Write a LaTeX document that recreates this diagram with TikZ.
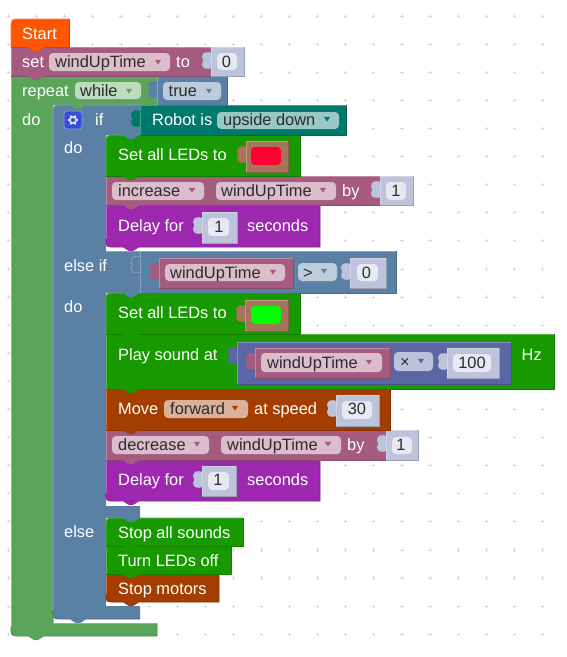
\documentclass[tikz,border=0pt]{standalone}
\usepackage{fontspec}
\usetikzlibrary{calc}
\setmainfont{Liberation Sans}
\definecolor{cLoop}{HTML}{5BA55B}
\definecolor{cLogic}{HTML}{5B80A5}
\definecolor{cVar}{HTML}{A55B80}
\definecolor{cVal}{HTML}{BCC3DB}
\definecolor{cValF}{HTML}{E6E9F2}
\definecolor{cTeal}{HTML}{00796B}
\definecolor{cLed}{HTML}{189900}
\definecolor{cPur}{HTML}{9E27B0}
\definecolor{cMot}{HTML}{A33E00}
\definecolor{cStart}{HTML}{FF5500}
\definecolor{cMath}{HTML}{5B67A5}
\definecolor{cCol}{HTML}{A5745B}
\definecolor{cGear}{HTML}{3A4BD8}
\definecolor{cTxt}{HTML}{2B2B2B}
\definecolor{cRed}{HTML}{FF0033}
% block: x1 y1 x2 y2 colour top-left-radius bottom-left-radius
\newcommand{\blk}[7]{%
  \fill[#5] (#1,#2+#6) .. controls (#1,#2) .. (#1+#6,#2) -- (#3,#2) -- (#3,#4) -- (#1+#7,#4) .. controls (#1,#4) .. (#1,#4-#7) -- cycle;
  \draw[#5!72!white,edge] (#1,#4-#7) -- (#1,#2+#6) .. controls (#1,#2) .. (#1+#6,#2) -- (#3,#2);
  \draw[#5!82!black,edge] (#3,#2) -- (#3,#4) -- (#1+#7,#4) .. controls (#1,#4) .. (#1,#4-#7);
}
% notch tab hanging under a block: x y colour
\newcommand{\nch}[3]{%
  \fill[#3] (#1+15,#2-.6) .. controls (#1+18,#2+1) and (#1+20,#2+4.2) .. (#1+24,#2+4.2) .. controls (#1+28,#2+4.2) and (#1+30,#2+1) .. (#1+33,#2-.6) -- cycle;
}
% value puzzle tab
\newcommand{\vpath}[2]{(#1+.6,#2+6) .. controls (#1-3,#2+4.5) and (#1-9,#2+4.5) .. (#1-9,#2+10) .. controls (#1-9,#2+12) and (#1-7.8,#2+12.5) .. (#1-7.8,#2+13.5) .. controls (#1-7.8,#2+14.5) and (#1-9,#2+15) .. (#1-9,#2+17) .. controls (#1-9,#2+22.5) and (#1-3,#2+22.5) .. (#1+.6,#2+21)}
\newcommand{\vtb}[3]{\fill[#3] \vpath{#1}{#2} -- cycle;}
\newcommand{\val}[5]{\vtb{#1}{#2}{#5}\blk{#1}{#2}{#3}{#4}{#5}{0}{0}}
\newcommand{\fld}[5]{\fill[#5,rounded corners=4pt] (#1,#2) rectangle (#3,#4);}
\newcommand{\ddn}[3]{\fill[#3] (#1-3.2,#2-2.2) -- (#1+3.2,#2-2.2) -- (#1,#2+2.6) -- cycle;}
\tikzset{
  edge/.style={line width=.7pt},
  lbl/.style={anchor=base west,inner sep=0pt,text=white,font=\fontsize{16.4}{20}\selectfont},
  ftx/.style={lbl,text=cTxt},
  num/.style={anchor=base,inner sep=0pt,text=cTxt,font=\fontsize{16.4}{20}\selectfont},
  dotm/.style={draw=black!15,line width=.7pt}
}
\begin{document}
\begin{tikzpicture}[x=1pt,y=-1pt]
\useasboundingbox (0,0) rectangle (567,657);
\fill[white] (0,0) rectangle (567,657);
% grid
\foreach \i in {0,...,19}{\foreach \j in {0,...,22}{
  \draw[dotm] ({8.5+28.1*\i-1.6},{16+28.1*\j}) -- ({8.5+28.1*\i+1.6},{16+28.1*\j});
  \draw[dotm] ({8.5+28.1*\i},{16+28.1*\j-1.6}) -- ({8.5+28.1*\i},{16+28.1*\j+1.6});
}}
% repeat
\fill[cLoop] (11,76) -- (157,76) -- (157,105) -- (53,105) -- (53,623) -- (157,623) -- (157,636) -- (20,636) .. controls (11,636) .. (11,627) -- cycle;
\draw[cLoop!72!white,edge] (11,627) -- (11,76) -- (157,76);
\draw[cLoop!72!white,edge] (53,110) -- (53,623) -- (157,623);
\draw[cLoop!82!black,edge] (157,623) -- (157,636) -- (20,636) .. controls (11,636) .. (11,627);
\nch{12}{636}{cLoop}
% if
\fill[cLogic] (53,114) .. controls (53,105) .. (62,105) -- (140,105) -- (140,135) -- (106,135) -- (106,251) -- (140,251) -- (140,293) -- (106,293) -- (106,506) -- (140,506) -- (140,518) -- (106,518) -- (106,606) -- (140,606) -- (140,619) -- (62,619) .. controls (53,619) .. (53,610) -- cycle;
\draw[cLogic!72!white,edge] (53,610) -- (53,114) .. controls (53,105) .. (62,105) -- (140,105);
\draw[cLogic!82!black,edge] (140,619) -- (62,619) .. controls (53,619) .. (53,610);
\draw[cLogic!72!white,edge] (106,251) -- (140,251);
\nch{54}{619}{cLogic}
\nch{54}{105}{cLoop}
% else stack
\blk{106}{574}{219}{602}{cMot}{0}{8}
\nch{107}{602}{cMot}
\blk{106}{546}{231}{574}{cLed}{0}{0}
\nch{107}{574}{cLed}
\blk{106}{518}{243}{546}{cLed}{9}{0}
\nch{107}{546}{cLed}
\nch{107}{518}{cLogic}
% else-if do stack
\blk{106}{460}{320}{501}{cPur}{0}{8}
\nch{107}{501}{cPur}
\val{202}{466}{236}{496}{cVal}
\fld{208}{472}{229}{490}{cValF}
\blk{106}{430}{386}{460}{cVar}{0}{0}
\nch{107}{460}{cVar}
\val{386}{430}{418}{460}{cVal}
\fld{392}{437}{412}{454}{cValF}
\fld{112}{436}{209}{454}{cVar!40!white}
\fld{221}{436}{341}{454}{cVar!40!white}
\blk{106}{389}{390}{430}{cMot}{0}{0}
\nch{107}{430}{cMot}
\val{336}{395}{379}{426}{cVal}
\fld{342}{401}{372}{419}{cValF}
\fld{164}{400}{248}{418}{cMot!40!white}
\blk{106}{334}{554}{389}{cLed}{0}{0}
\nch{107}{389}{cLed}
\val{237}{342}{511}{384}{cMath}
\val{255}{348}{390}{378}{cVar}
\fld{261}{353}{382}{372}{cVar!40!white}
\fld{394}{352}{433}{371}{cMath!40!white}
\val{447}{348}{499}{378}{cVal}
\fld{453}{354}{491}{372}{cValF}
\blk{106}{293}{300}{334}{cLed}{9}{0}
\nch{107}{334}{cLed}
\val{245}{300}{288}{331}{cCol}
\fld{251}{306}{281}{324}{green}
\nch{107}{293}{cLogic}
% else-if condition
\val{140}{251}{396}{293}{cLogic}
\draw[cLogic!72!white,edge] \vpath{140}{251};
\val{159}{258}{293}{288}{cVar}
\fld{165}{264}{285}{281}{cVar!40!white}
\fld{298}{263}{337}{281}{cLogic!40!white}
\val{350}{258}{386}{288}{cVal}
\fld{357}{264}{378}{281}{cValF}
% first do stack
\blk{106}{205}{320}{247}{cPur}{0}{8}
\nch{107}{247}{cPur}
\val{202}{212}{237}{243}{cVal}
\fld{208}{218}{229}{236}{cValF}
\blk{106}{176}{380}{205}{cVar}{0}{0}
\nch{107}{205}{cVar}
\val{380}{176}{413}{205}{cVal}
\fld{386}{182}{406}{200}{cValF}
\fld{112}{182}{204}{200}{cVar!40!white}
\fld{216}{182}{336}{200}{cVar!40!white}
\blk{106}{135}{300}{176}{cLed}{9}{0}
\nch{107}{176}{cLed}
\val{246}{141}{288}{172}{cCol}
\fld{251}{147}{281}{165}{cRed}
\nch{107}{135}{cLogic}
% condition
\val{140}{105}{346}{135}{cTeal}
\fld{217}{112}{339}{129}{cTeal!40!white}
% gear button
\fill[cGear,rounded corners=3pt] (64,111) rectangle (82,129);
\draw[cGear!55!white,edge,rounded corners=3pt] (64,111) rectangle (82,129);
\foreach \a in {0,60,...,300}{\draw[cGear!20!white,line width=1.7pt] ($(73,120)+(\a:3.2)$) -- ($(73,120)+(\a:5.2)$);}
\draw[cGear!20!white,line width=1.8pt] (73,120) circle[radius=3.2];
% while + true
\val{157}{76}{227}{105}{cLogic}
\fld{163}{82}{221}{100}{cLogic!40!white}
\fld{75}{82}{141}{99}{cLoop!40!white}
% set
\blk{11}{47}{211}{76}{cVar}{0}{0}
\nch{12}{76}{cVar}
\val{211}{47}{244}{76}{cVal}
\fld{217}{53}{237}{70}{cValF}
\fld{49}{53}{170}{71}{cVar!40!white}
% start
\blk{11}{19}{69}{47}{cStart}{9}{0}
\nch{12}{47}{cStart}
% arrows
\ddn{158}{62}{cVar}\ddn{129}{91}{cLoop}\ddn{209}{91}{cLogic}\ddn{327}{119}{cTeal}
\ddn{192}{190}{cVar}\ddn{323}{190}{cVar}\ddn{273}{272}{cVar}\ddn{324}{271}{cLogic}
\ddn{369}{362}{cVar}\ddn{421}{361}{cMath}\ddn{235}{408}{cMot}\ddn{197}{444}{cVar}\ddn{328}{444}{cVar}
% texts
\node[lbl] (tStart) at (22,39) {Start};
\node[lbl] (tSet) at (22,67) {set};
\node[ftx] (tVar1) at (55,67) {windUpTime};
\node[lbl] (tTo) at (176,67) {to};
\node[num] (tZero) at (226.5,67) {0};
\node[lbl] (tRepeat) at (22,96.5) {repeat};
\node[ftx] (tWhile) at (80,96.5) {while};
\node[ftx] (tTrue) at (168.5,96.5) {true};
\node[lbl] (tDo) at (22,125) {do};
\node[lbl] (tIf) at (95,125) {if};
\node[lbl] (tRobot) at (152,125) {Robot is};
\node[ftx] (tUpside) at (223,125) {upside down};
\node[lbl] (tDoA) at (64,153) {do};
\node[lbl] (tLedA) at (118,160) {Set all LEDs to};
\node[ftx] (tInc) at (118,196.5) {increase};
\node[ftx] (tVar2) at (221,196.5) {windUpTime};
\node[lbl] (tBy) at (342,196.5) {by};
\node[num] (tOneA) at (396,196.5) {1};
\node[lbl] (tDelayA) at (118,231) {Delay for};
\node[num] (tOneB) at (219,232) {1};
\node[lbl] (tSecA) at (247,231) {seconds};
\node[lbl] (tElseIf) at (64,271.5) {else if};
\node[ftx] (tVar3) at (170,278) {windUpTime};
\node[ftx] (tGt) at (303,278) {>};
\node[num] (tZeroB) at (366.5,278) {0};
\node[lbl] (tDoB) at (64,312) {do};
\node[lbl] (tLedB) at (118,318) {Set all LEDs to};
\node[lbl] (tPlay) at (118,360.5) {Play sound at};
\node[ftx] (tVar4) at (267,368) {windUpTime};
\node[ftx] (tTimes) at (400,367) {×};
\node[num] (tHund) at (472,368) {100};
\node[lbl] (tHz) at (521.5,360.5) {Hz};
\node[lbl] (tMove) at (118,414) {Move};
\node[ftx] (tFwd) at (170,414) {forward};
\node[lbl] (tSpeed) at (254,414) {at speed};
\node[num] (tThirty) at (357,414) {30};
\node[ftx] (tDec) at (118,450) {decrease};
\node[ftx] (tVar5) at (227,450) {windUpTime};
\node[lbl] (tByB) at (347,450) {by};
\node[num] (tOneC) at (401,450) {1};
\node[lbl] (tDelayB) at (118,485) {Delay for};
\node[num] (tOneD) at (218,485.5) {1};
\node[lbl] (tSecB) at (247,485) {seconds};
\node[lbl] (tElse) at (64,537) {else};
\node[lbl] (tStopS) at (118,538) {Stop all sounds};
\node[lbl] (tOff) at (118,566) {Turn LEDs off};
\node[lbl] (tStopM) at (118,594) {Stop motors};
\end{tikzpicture}
\end{document}
